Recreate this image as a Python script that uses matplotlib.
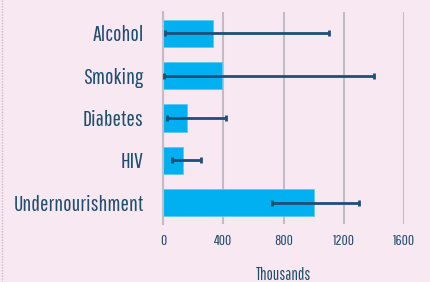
import matplotlib
matplotlib.use("Agg")
import matplotlib.pyplot as plt
from matplotlib.lines import Line2D

categories = ["Alcohol", "Smoking", "Diabetes", "HIV", "Undernourishment"]
values = [332, 390, 160, 135, 1000]
err_low = [13, 7, 24, 60, 726]
err_high = [1100, 1400, 418, 254, 1302]
xticks = [0, 400, 800, 1200, 1600]

bg = "#f8e8f2"
bar_color = "#00b0f0"
err_color = "#1f4e79"
text_color = "#1f4e6e"

plt.rcParams['font.family'] = ['Pathway Gothic One', 'DejaVu Sans']

fig = plt.figure(figsize=(4.30, 2.82), dpi=100, facecolor=bg)
ax = fig.add_axes([163/430, 1-224/282, (404-163)/430, (224-12)/282])
ax.set_facecolor(bg)

y = list(range(len(categories)))
lower = [v - l for v, l in zip(values, err_low)]
upper = [h - v for v, h in zip(values, err_high)]
ax.barh(y, values, height=0.64, color=bar_color, edgecolor="#5cc8f0", linewidth=0.6, zorder=2)
ax.errorbar(values, y, xerr=[lower, upper], fmt="none", ecolor=err_color,
            elinewidth=2, capsize=2.5, capthick=2, zorder=3)

ax.set_ylim(4.5, -0.5)
ax.set_xlim(0, 1600)
ax.set_yticks(y)
ax.set_yticklabels(categories, fontsize=16, color=text_color)
ax.set_xticks(xticks)
ax.set_xticklabels([str(t) for t in xticks], fontsize=11, color=text_color)
ax.tick_params(axis="both", length=0)
ax.tick_params(axis="y", pad=14)
ax.tick_params(axis="x", pad=7)
ax.xaxis.grid(True, color="#c4bcc4", linewidth=1.5, zorder=0)
ax.set_axisbelow(True)
for s in ["top", "right", "bottom"]:
    ax.spines[s].set_visible(False)
ax.spines["left"].set_color("#c4bcc4")
ax.spines["left"].set_linewidth(1.5)
ax.set_xlabel("Thousands", fontsize=12, color=text_color, labelpad=14)

fig.add_artist(Line2D([2/430, 2/430], [0, 1], transform=fig.transFigure,
                      color="#c8c0c8", linewidth=1, linestyle=(0, (1, 1))))

fig.savefig("out.png", dpi=100, facecolor=bg)
